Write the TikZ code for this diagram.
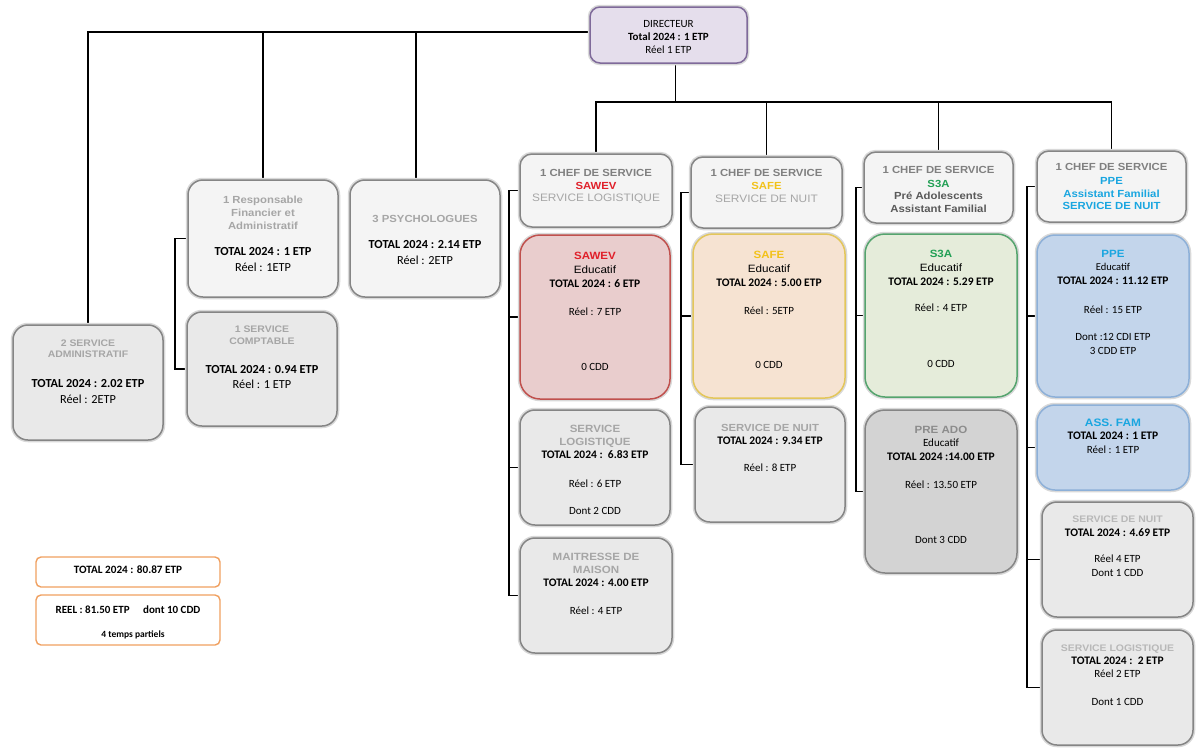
\documentclass[tikz,border=0pt]{standalone}
\usepackage{fontspec}
\setmainfont{Carlito}
\newfontfamily\Ar[FakeStretch=1.1]{Liberation Sans}
\usetikzlibrary{backgrounds}
\definecolor{boxgray}{HTML}{E9E9E9}
\definecolor{lightbox}{HTML}{F4F4F4}
\definecolor{bordgray}{HTML}{858585}
\definecolor{halo}{HTML}{D9D9D9}
\definecolor{ttlgray}{HTML}{A6A6A6}
\definecolor{hdrgray}{HTML}{808080}
\definecolor{ttllight}{HTML}{B8B8B8}
\definecolor{darkg}{HTML}{595959}
\definecolor{preadogray}{HTML}{8C8C8C}
\definecolor{dirfill}{HTML}{E5DEEC}
\definecolor{dirbord}{HTML}{7F6A9A}
\definecolor{redfill}{HTML}{E9CDCD}
\definecolor{redbord}{HTML}{C0504D}
\definecolor{peach}{HTML}{F6E3D2}
\definecolor{yelbord}{HTML}{E3C65A}
\definecolor{greenfill}{HTML}{E5ECDA}
\definecolor{greenbord}{HTML}{55A46E}
\definecolor{bluefill}{HTML}{C3D5EB}
\definecolor{bluebord}{HTML}{8DB0D8}
\definecolor{preadofill}{HTML}{D3D3D3}
\definecolor{sawevred}{HTML}{E0202A}
\definecolor{safeyel}{HTML}{F2C21A}
\definecolor{s3agreen}{HTML}{22A055}
\definecolor{ppecyan}{HTML}{1AA6E0}
\definecolor{orangeb}{HTML}{F0A060}
\newcommand\gttl[2][10.3]{{\Ar\bfseries\fontsize{#1}{#1}\selectfont\color{ttlgray}#2}}
\newcommand\grl[2][10.8]{{\Ar\fontsize{#1}{#1}\selectfont\color{ttlgray}#2}}
\newcommand\cttl[3][10.3]{{\Ar\bfseries\fontsize{#1}{#1}\selectfont\color{#2}#3}}
\newcommand\bdy[2][11.5]{{\bfseries\fontsize{#1}{#1}\selectfont #2}}
\newcommand\rgl[2][11]{{\fontsize{#1}{#1}\selectfont #2}}
\newcommand\arl[2][10.6]{{\Ar\fontsize{#1}{#1}\selectfont #2}}
\newcommand\lfirst[1]{\smash{#1}\cr}
\newcommand\lnext[2]{\noalign{\vskip#1pt}\smash{#2}\cr}
\newcommand\stk[1]{\vtop{\offinterlineskip\halign{\hfil##\hfil\cr#1}}}
\tikzset{
  gbox/.style={draw=bordgray, fill=boxgray, line width=1.5pt, rounded corners=15pt,
    preaction={draw=halo, line width=4.5pt}},
  lbox/.style={gbox, fill=lightbox, rounded corners=12pt},
  dirbox/.style={gbox, draw=dirbord, fill=dirfill, rounded corners=10pt},
  redbox/.style={gbox, draw=redbord, fill=redfill, rounded corners=20pt},
  yelbox/.style={gbox, draw=yelbord, fill=peach, rounded corners=20pt},
  grnbox/.style={gbox, draw=greenbord, fill=greenfill, rounded corners=20pt},
  blubox/.style={gbox, draw=bluebord, fill=bluefill, rounded corners=18pt},
  prebox/.style={gbox, fill=preadofill, rounded corners=20pt},
  totbox/.style={draw=orangeb, fill=white, line width=1.4pt, rounded corners=5pt},
  txt/.style={anchor=base, inner sep=0pt},
  conn/.style={line width=1.6pt, black}
}
\begin{document}
\begin{tikzpicture}[x=1pt, y=-1pt]
\useasboundingbox (0,0) rectangle (1196,747);
% boxes
\node[dirbox, minimum width=157pt, minimum height=56pt] (dir) at (668.5,35) {};
\node[gbox, minimum width=150pt, minimum height=115pt] (adm) at (88,382.5) {};
\node[gbox, fill=lightbox, minimum width=150pt, minimum height=117pt] (rf) at (263,238.5) {};
\node[gbox, minimum width=150pt, minimum height=114pt] (comp) at (262,369) {};
\node[gbox, fill=lightbox, minimum width=150pt, minimum height=117pt] (psy) at (425,238.5) {};
\node[lbox, minimum width=152pt, minimum height=73pt] (c1) at (596,190.5) {};
\node[lbox, minimum width=151pt, minimum height=71pt] (c2) at (766.5,192.5) {};
\node[lbox, minimum width=149pt, minimum height=71pt] (c3) at (938.5,187.5) {};
\node[lbox, minimum width=149pt, minimum height=71pt] (c4) at (1111.5,186.5) {};
\node[redbox, minimum width=150pt, minimum height=164pt] (sawev) at (595,317) {};
\node[yelbox, minimum width=152pt, minimum height=164pt] (safe) at (769,316) {};
\node[grnbox, minimum width=152pt, minimum height=163pt] (s3a) at (941,315.5) {};
\node[blubox, minimum width=152pt, minimum height=162pt] (ppe) at (1113,316) {};
\node[gbox, minimum width=150pt, minimum height=115pt] (log1) at (595,467.5) {};
\node[gbox, minimum width=152pt, minimum height=115pt] (mait) at (596,595.5) {};
\node[gbox, minimum width=150pt, minimum height=115pt] (nuit2) at (770,464.5) {};
\node[prebox, minimum width=152pt, minimum height=163pt] (preado) at (941,491.5) {};
\node[blubox, minimum width=152pt, minimum height=85pt] (assfam) at (1113,447.5) {};
\node[gbox, minimum width=151pt, minimum height=115pt] (nuit4) at (1117.5,559.5) {};
\node[gbox, minimum width=151pt, minimum height=115pt] (log4) at (1117.5,687.5) {};
\node[totbox, minimum width=184pt, minimum height=30pt] (tot1) at (128,572) {};
\node[totbox, minimum width=184pt, minimum height=50pt] (tot2) at (128,620) {};
\coordinate (bus) at (0,102);
% connectors
\begin{pgfonlayer}{background}
\fill[white] (0,0) rectangle (1196,747);
\draw[conn] ([yshift=3pt]dir.west) -| (adm.north);
\draw[conn] ([yshift=3pt]dir.west) -| (rf.north);
\draw[conn] ([yshift=3pt]dir.west) -| ([xshift=-9pt]psy.north);
\draw[conn] ([xshift=7pt]dir.south) -- ([xshift=7pt]dir.south |- bus);
\draw[conn] (c1.north) -- (c1.north |- bus) -- (c4.north |- bus) -- (c4.north);
\draw[conn] (c2.north) -- (c2.north |- bus);
\draw[conn] (c3.north) -- (c3.north |- bus);
\draw[conn] (rf.west) -- ++(-12,0) |- (comp.west);
\draw[conn] (c1.west) -- ++(-10,0) |- (mait.west);
\draw[conn] (sawev.west) -| ([xshift=-10pt]c1.west);
\draw[conn] (log1.west) -| ([xshift=-10pt]c1.west);
\draw[conn] (c2.west) -- ++(-9,0) |- (nuit2.west);
\draw[conn] (safe.west) -| ([xshift=-9pt]c2.west);
\draw[conn] (c3.west) -- ++(-7,0) |- (preado.west);
\draw[conn] (s3a.west) -| ([xshift=-7pt]c3.west);
\draw[conn] (c4.west) -- ++(-9,0) |- (log4.west);
\draw[conn] (ppe.west) -| ([xshift=-9pt]c4.west);
\draw[conn] (assfam.west) -| ([xshift=-9pt]c4.west);
\draw[conn] (nuit4.west) -| ([xshift=-9pt]c4.west);
\end{pgfonlayer}
% texts
\node[txt] (tdir) at (668.5,27) {\stk{\lfirst{\rgl[11]{DIRECTEUR}}\lnext{13}{\bdy[11]{Total 2024 : 1 ETP}}\lnext{13}{\rgl[11]{Réel 1 ETP}}}};
\node[txt] (trf) at (263,203) {\stk{\lfirst{\gttl{1 Responsable}}\lnext{13.5}{\gttl{Financier et}}\lnext{13}{\gttl{Administratif}}\lnext{26}{\bdy[12.3]{TOTAL 2024 : 1 ETP}}\lnext{16}{\rgl[12.3]{Réel : 1ETP}}}};
\node[txt] (tpsy) at (425,222) {\stk{\lfirst{\gttl{3 PSYCHOLOGUES}}\lnext{26}{\bdy[12.3]{TOTAL 2024 : 2.14 ETP}}\lnext{16}{\rgl[12.3]{Réel : 2ETP}}}};
\node[txt] (tadm) at (88,346) {\stk{\lfirst{\gttl[9.5]{2 SERVICE}}\lnext{11.5}{\gttl[9.5]{ADMINISTRATIF}}\lnext{30}{\bdy[12.3]{TOTAL 2024 : 2.02 ETP}}\lnext{16}{\rgl[12.3]{Réel : 2ETP}}}};
\node[txt] (tcomp) at (262,332) {\stk{\lfirst{\gttl[9.5]{1 SERVICE}}\lnext{12}{\gttl[9.5]{COMPTABLE}}\lnext{29}{\bdy[12.3]{TOTAL 2024 : 0.94 ETP}}\lnext{15}{\rgl[12.3]{Réel : 1 ETP}}}};
\node[txt] (tc1) at (596,176) {\stk{\lfirst{\cttl{hdrgray}{1 CHEF DE SERVICE}}\lnext{13}{\cttl{sawevred}{SAWEV}}\lnext{12.5}{\grl{SERVICE LOGISTIQUE}}}};
\node[txt] (tc2) at (766.5,176) {\stk{\lfirst{\cttl{hdrgray}{1 CHEF DE SERVICE}}\lnext{13}{\cttl{safeyel}{SAFE}}\lnext{13.5}{\grl{SERVICE DE NUIT}}}};
\node[txt] (tc3) at (938.5,173) {\stk{\lfirst{\cttl{hdrgray}{1 CHEF DE SERVICE}}\lnext{14}{\cttl{s3agreen}{S3A}}\lnext{12}{\cttl{darkg}{Pré Adolescents}}\lnext{13}{\cttl{darkg}{Assistant Familial}}}};
\node[txt] (tc4) at (1111.5,170) {\stk{\lfirst{\cttl{hdrgray}{1 CHEF DE SERVICE}}\lnext{14}{\cttl{ppecyan}{PPE}}\lnext{13}{\cttl{ppecyan}{Assistant Familial}}\lnext{12}{\cttl{ppecyan}{SERVICE DE NUIT}}}};
\node[txt] (tsawev) at (595,259) {\stk{\lfirst{\cttl[10.5]{sawevred}{SAWEV}}\lnext{14}{\arl{Educatif}}\lnext{14}{\bdy{TOTAL 2024 : 6 ETP}}\lnext{28}{\rgl{Réel : 7 ETP}}\lnext{55}{\rgl{0 CDD}}}};
\node[txt] (tsafe) at (769,258) {\stk{\lfirst{\cttl[10.5]{safeyel}{SAFE}}\lnext{14.5}{\arl{Educatif}}\lnext{13.5}{\bdy{TOTAL 2024 : 5.00 ETP}}\lnext{28}{\rgl{Réel : 5ETP}}\lnext{54}{\rgl{0 CDD}}}};
\node[txt] (ts3a) at (941,257) {\stk{\lfirst{\cttl[10.5]{s3agreen}{S3A}}\lnext{14}{\arl{Educatif}}\lnext{14}{\bdy{TOTAL 2024 : 5.29 ETP}}\lnext{26}{\rgl{Réel : 4 ETP}}\lnext{56}{\rgl{0 CDD}}}};
\node[txt] (tppe) at (1113,257) {\stk{\lfirst{\cttl[10.5]{ppecyan}{PPE}}\lnext{13}{\rgl[10.5]{Educatif}}\lnext{14}{\bdy{TOTAL 2024 : 11.12 ETP}}\lnext{29}{\rgl{Réel : 15 ETP}}\lnext{27}{\rgl{Dont :12 CDI ETP}}\lnext{14}{\rgl{3 CDD ETP}}}};
\node[txt] (tlog1) at (595,432) {\stk{\lfirst{\gttl[10.5]{SERVICE}}\lnext{13}{\gttl[10.5]{LOGISTIQUE}}\lnext{13}{\bdy{TOTAL 2024 :\ \ 6.83 ETP}}\lnext{29}{\rgl{Réel : 6 ETP}}\lnext{27}{\rgl{Dont 2 CDD}}}};
\node[txt] (tmait) at (596,560) {\stk{\lfirst{\gttl[10.5]{MAITRESSE DE}}\lnext{13}{\gttl[10.5]{MAISON}}\lnext{13}{\bdy{TOTAL 2024 : 4.00 ETP}}\lnext{28}{\rgl{Réel : 4 ETP}}}};
\node[txt] (tnuit2) at (770,431) {\stk{\lfirst{\gttl[10.3]{SERVICE DE NUIT}}\lnext{13}{\bdy{TOTAL 2024 : 9.34 ETP}}\lnext{27}{\rgl{Réel : 8 ETP}}}};
\node[txt] (tpreado) at (941,433) {\stk{\lfirst{\cttl[10.5]{preadogray}{PRE ADO}}\lnext{13}{\rgl{Educatif}}\lnext{14}{\bdy{TOTAL 2024 :14.00 ETP}}\lnext{28}{\rgl{Réel : 13.50 ETP}}\lnext{55}{\rgl{Dont 3 CDD}}}};
\node[txt] (tassfam) at (1113,426) {\stk{\lfirst{\cttl[10.8]{ppecyan}{ASS. FAM}}\lnext{13}{\bdy{TOTAL 2024 : 1 ETP}}\lnext{14}{\rgl{Réel : 1 ETP}}}};
\node[txt] (tnuit4) at (1117.5,522) {\stk{\lfirst{\cttl[9.5]{ttllight}{SERVICE DE NUIT}}\lnext{14}{\bdy{TOTAL 2024 : 4.69 ETP}}\lnext{26}{\rgl{Réel 4 ETP}}\lnext{14}{\rgl{Dont 1 CDD}}}};
\node[txt] (tlog4) at (1117.5,651) {\stk{\lfirst{\cttl[9.5]{ttllight}{SERVICE LOGISTIQUE}}\lnext{13}{\bdy{TOTAL 2024 :\ \ 2 ETP}}\lnext{13}{\rgl{Réel 2 ETP}}\lnext{28}{\rgl{Dont 1 CDD}}}};
\node[txt] (ttot1) at (128,573) {\stk{\lfirst{\bdy[11.2]{TOTAL 2024 : 80.87 ETP}}}};
\node[txt] (ttot2) at (128,613) {\stk{\lfirst{\bdy[11]{REEL : 81.50 ETP\quad\ dont 10 CDD}}\lnext{24}{\hspace*{10pt}\bdy[9.5]{4 temps partiels}}}};
\end{tikzpicture}
\end{document}
